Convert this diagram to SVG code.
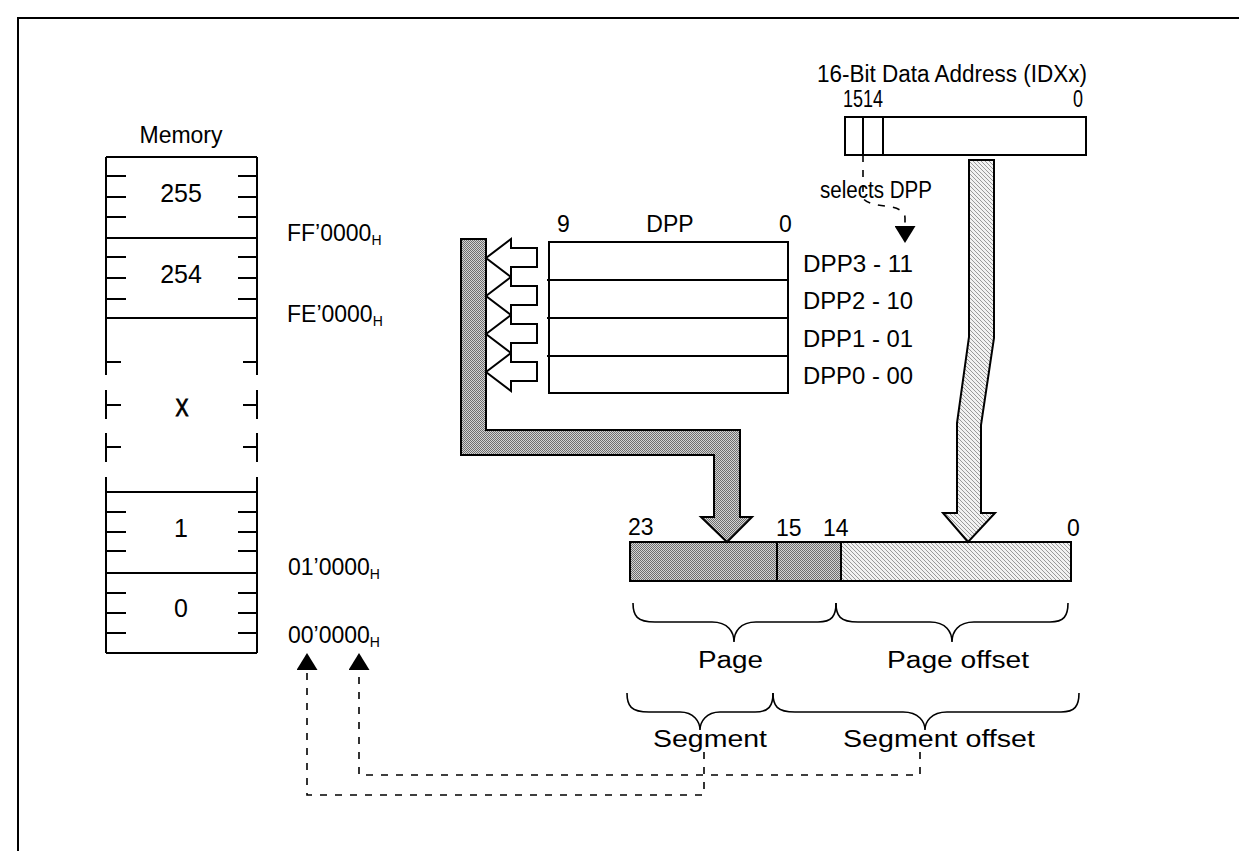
<svg xmlns="http://www.w3.org/2000/svg" width="1239" height="851" viewBox="0 0 1239 851">
<style>
text{font-family:"Liberation Sans",Arial,sans-serif;font-size:23px;fill:#000}
.big{font-size:25px}
.ln{stroke:#000;stroke-width:2;fill:none}
.box{stroke:#000;stroke-width:2;fill:#fff}
.dash{stroke:#000;stroke-width:1.6;fill:none;stroke-dasharray:7 8}
.brace{stroke:#000;stroke-width:1.6;fill:none}
.mid{text-anchor:middle}
</style>
<defs>
<pattern id="dots" width="2" height="2" patternUnits="userSpaceOnUse">
<rect width="2" height="2" fill="#d4d4d4"/>
<rect width="1" height="1" fill="#6e6e6e"/>
<rect x="1" y="1" width="1" height="1" fill="#6e6e6e"/>
</pattern>
<pattern id="hatch" width="4" height="4" patternUnits="userSpaceOnUse">
<rect width="4" height="4" fill="#f2f2f2"/>
<path d="M-1,-1 L5,5 M3,-1 L5,1 M-1,3 L1,5" stroke="#9a9a9a" stroke-width="1"/>
</pattern>
<marker id="tri" viewBox="0 0 17 21" refX="0" refY="10.5" markerWidth="17" markerHeight="21" markerUnits="userSpaceOnUse" orient="auto">
<path d="M0,0 L17,10.5 L0,21 Z" fill="#000"/>
</marker>
</defs>
<rect x="18" y="18" width="1240" height="850" fill="#fff" stroke="#000" stroke-width="2"/>

<g id="memory">
<text x="181" y="143" class="mid" font-size="24">Memory</text>
<path class="ln" d="M106,157 H257 M106,238 H257 M106,318 H257 M106,157 V375 M257,157 V375"/>
<path class="ln" d="M106,176 H126 M106,197 H126 M106,217 H126 M238,176 H257 M238,197 H257 M238,217 H257"/>
<path class="ln" d="M106,257 H126 M106,278 H126 M106,299 H126 M238,257 H257 M238,278 H257 M238,299 H257"/>
<text x="181" y="202" class="mid big">255</text>
<text x="181" y="283" class="mid big">254</text>
<path class="ln" d="M106,390 V419 M257,390 V419 M106,433 V462 M257,433 V462"/>
<path class="ln" d="M106,362 H121 M106,405 H121 M106,447 H121 M243,362 H257 M243,405 H257 M243,447 H257"/>
<text x="175.5" y="416" font-size="27" stroke="#000" stroke-width="0.9" textLength="13" lengthAdjust="spacingAndGlyphs">X</text>
<path class="ln" d="M106,477 V653 M257,477 V653 M106,492 H257 M106,573 H257 M106,653 H257"/>
<path class="ln" d="M106,512 H126 M106,532 H126 M106,551 H126 M238,512 H257 M238,532 H257 M238,551 H257"/>
<path class="ln" d="M106,593 H126 M106,613 H126 M106,633 H126 M238,593 H257 M238,613 H257 M238,633 H257"/>
<text x="181" y="537" class="mid big">1</text>
<text x="181" y="617" class="mid big">0</text>
</g>

<g id="address-labels">
<text x="287" y="241">FF’0000<tspan font-size="14" dy="4">H</tspan></text>
<text x="287" y="322">FE’0000<tspan font-size="14" dy="4">H</tspan></text>
<text x="288" y="575">01’0000<tspan font-size="14" dy="4">H</tspan></text>
<text x="288" y="643">00’0000<tspan font-size="14" dy="4">H</tspan></text>
</g>

<g id="idx-address">
<text x="817" y="82" textLength="270" lengthAdjust="spacingAndGlyphs">16-Bit Data Address (IDXx)</text>
<text x="843" y="107" font-size="15" textLength="40" lengthAdjust="spacingAndGlyphs">1514</text>
<text x="1073" y="107" font-size="15" textLength="10" lengthAdjust="spacingAndGlyphs">0</text>
<rect class="box" x="845" y="117" width="241" height="38"/>
<path class="ln" d="M863,117 V155 M883,117 V155"/>
</g>

<g id="dpp-registers">
<text x="557" y="232" font-size="24">9</text>
<text x="670" y="232" class="mid" font-size="24">DPP</text>
<text x="779" y="232" font-size="24">0</text>
<rect class="box" x="549" y="242" width="239" height="151"/>
<path class="ln" d="M547,280 H788 M547,318 H788 M547,356 H788"/>
<text x="803" y="272" font-size="24" textLength="110" lengthAdjust="spacingAndGlyphs">DPP3 - 11</text>
<text x="803" y="309" font-size="24" textLength="110" lengthAdjust="spacingAndGlyphs">DPP2 - 10</text>
<text x="803" y="347" font-size="24" textLength="110" lengthAdjust="spacingAndGlyphs">DPP1 - 01</text>
<text x="803" y="384" font-size="24" textLength="110" lengthAdjust="spacingAndGlyphs">DPP0 - 00</text>
</g>

<g id="address-24bit">
<rect x="630" y="542" width="211" height="39" fill="url(#dots)" stroke="#000" stroke-width="2"/>
<rect x="841" y="542" width="230" height="39" fill="url(#hatch)" stroke="#000" stroke-width="2"/>
<path class="ln" d="M777,542 V581"/>
<text x="628" y="535" font-size="24">23</text>
<text x="776" y="536" font-size="24">15</text>
<text x="823" y="536" font-size="24">14</text>
<text x="1067" y="536" font-size="24">0</text>
</g>

<g id="braces">
<path class="brace" d="M633,603 C633,616 637,622 655,622 L712,622 C728,622 734,632 734,642 C734,632 740,622 756,622 L818,622 C832,622 836,616 836,603"/>
<path class="brace" d="M836,603 C836,616 840,622 858,622 L930,622 C946,622 952,632 952,642 C952,632 958,622 974,622 L1050,622 C1064,622 1068,616 1068,603"/>
<text x="698" y="668" textLength="65" lengthAdjust="spacingAndGlyphs">Page</text>
<text x="887" y="668" textLength="142" lengthAdjust="spacingAndGlyphs">Page offset</text>
<path class="brace" d="M627,693 C627,706 631,712 649,712 L680,712 C694,712 700,722 700,730 C700,722 706,712 720,712 L755,712 C769,712 773,706 773,693"/>
<path class="brace" d="M773,693 C773,706 777,712 795,712 L903,712 C919,712 925,722 925,730 C925,722 931,712 947,712 L1061,712 C1075,712 1079,706 1079,693"/>
<text x="653" y="747" textLength="114" lengthAdjust="spacingAndGlyphs">Segment</text>
<text x="843" y="747" textLength="192" lengthAdjust="spacingAndGlyphs">Segment offset</text>
</g>

<g id="connectors">
<path d="M461,239 L486,239 L486,430 L740,430 L740,517 L752,517 L727,542 L701,517 L714,517 L714,455 L461,455 Z" fill="url(#dots)" stroke="#000" stroke-width="2" stroke-linejoin="miter"/>
<path d="M969,160 L994,160 L994,338 L981,425 L981,513 L995,513 L968,542 L943,513 L957,513 L957,423 L969,337 Z" fill="url(#hatch)" stroke="#000" stroke-width="2"/>
<path class="box" d="M486,258 L511,239 L511,248 L537,248 L537,267 L511,267 L511,277 Z"/>
<path class="box" d="M486,296 L511,277 L511,286 L537,286 L537,305 L511,305 L511,315 Z"/>
<path class="box" d="M486,334 L511,315 L511,324 L537,324 L537,343 L511,343 L511,353 Z"/>
<path class="box" d="M486,372 L511,353 L511,362 L537,362 L537,381 L511,381 L511,391 Z"/>
<path class="dash" d="M863,155 L863,198 Q866,204 885,206 Q905,208 905,218 L905,226" marker-end="url(#tri)"/>
<path class="dash" d="M920,752 L920,775 L359,775 L359,670" marker-end="url(#tri)"/>
<path class="dash" d="M704,752 L704,795 L307,795 L307,670" marker-end="url(#tri)"/>
</g>
<text x="820" y="198" font-size="18" textLength="112" lengthAdjust="spacingAndGlyphs">selects DPP</text>
</svg>
